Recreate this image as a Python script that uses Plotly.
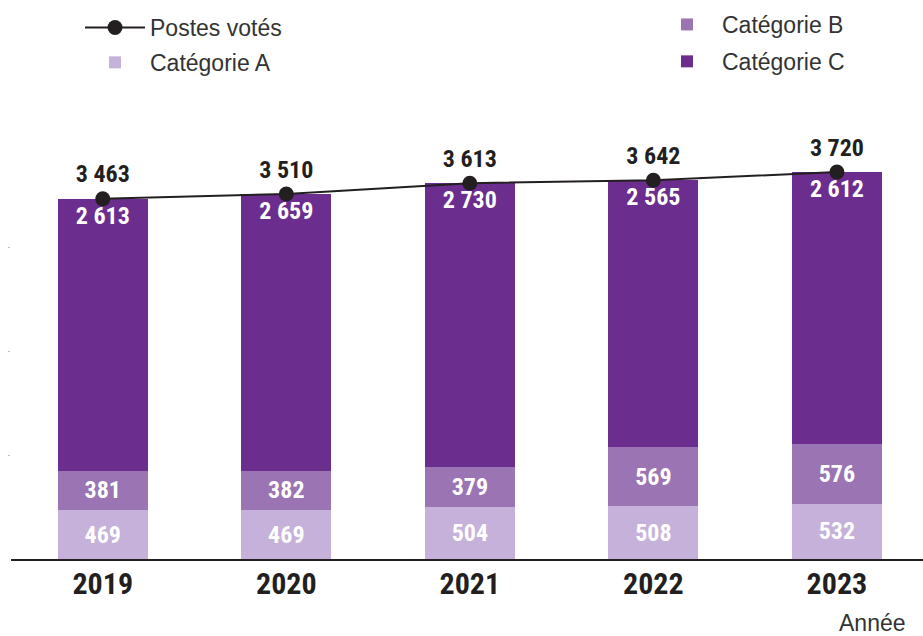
import plotly.graph_objects as go

years = ["2019", "2020", "2021", "2022", "2023"]
cat_a = [469, 469, 504, 508, 532]
cat_b = [381, 382, 379, 569, 576]
cat_c = [2613, 2659, 2730, 2565, 2612]
postes = [3463, 3510, 3613, 3642, 3720]

COL_A = "#c5b1d9"
COL_B = "#9a74b3"
COL_C = "#6b2d8e"
DARK = "#231f20"

NUM_FONT = "Liberation Sans Narrow, Roboto Condensed, DejaVu Sans Condensed, Roboto, sans-serif"
TXT_FONT = "Liberation Sans, Arial, sans-serif"

W, H = 923, 636
ML, MR, MT, MB = 11, 0, 143, 77
PW, PH = W - ML - MR, H - MT - MB


def fmt(v):
    return f"{v:,}".replace(",", " ")


def px_x(px):
    return (px - ML) / PW


def px_y(py):
    return (H - MB - py) / PH


def cx(px):
    return px / W


def cy(py):
    return 1 - py / H


fig = go.Figure()
lbl = dict(family=NUM_FONT, size=24, color="white", weight="bold")
for name, vals, col, anchor, rank, lg in [
    ("Catégorie A", cat_a, COL_A, "middle", 2, "legend"),
    ("Catégorie B", cat_b, COL_B, "middle", 1, "legend2"),
    ("Catégorie C", cat_c, COL_C, "end", 2, "legend2"),
]:
    fig.add_trace(go.Bar(
        x=years, y=vals, name=name, marker=dict(color=col, line=dict(width=0)),
        width=0.49, text=[fmt(v) for v in vals], textposition="inside",
        insidetextanchor=anchor, textfont=lbl, constraintext="none",
        hoverinfo="skip", legendrank=rank, legend=lg, legendgroup=name,
    ))

fig.add_trace(go.Scatter(
    x=years, y=postes, name="Postes votés", mode="lines+markers+text",
    line=dict(color=DARK, width=2), marker=dict(color=DARK, size=15),
    text=[fmt(v) for v in postes], textposition="top center",
    textfont=dict(family=NUM_FONT, size=24, color=DARK, weight="bold"),
    cliponaxis=False, legendrank=1, legend="legend", legendgroup="postes",
))

leg_common = dict(
    font=dict(family=TXT_FONT, size=23, color="#333333"),
    bgcolor="rgba(0,0,0,0)", borderwidth=0,
    xanchor="left", yanchor="top", itemwidth=60, orientation="v",
    xref="container", yref="container",
)
fig.update_layout(
    barmode="stack",
    width=W, height=H,
    margin=dict(l=ML, r=MR, t=MT, b=MB, pad=0, autoexpand=False),
    plot_bgcolor="white", paper_bgcolor="white",
    showlegend=True,
    legend=dict(x=cx(80), y=cy(6), tracegroupgap=2, **leg_common),
    legend2=dict(x=cx(652), y=cy(3), tracegroupgap=4, **leg_common),
    xaxis=dict(
        range=[-0.5, 4.469], showgrid=False, zeroline=False,
        showline=True, linecolor=DARK, linewidth=2, automargin=False,
        ticks="", tickfont=dict(family=NUM_FONT, size=30, color=DARK, weight="bold"),
        ticklabelstandoff=-3,
    ),
    yaxis=dict(
        range=[0, 4000], showgrid=False, zeroline=False, showline=False,
        tickvals=[1000, 2000, 3000], showticklabels=False, automargin=False,
        ticks="outside", ticklen=2, tickwidth=1, tickcolor="#c9b8da",
    ),
    annotations=[dict(
        text="Année", xref="paper", yref="paper", x=px_x(908), y=px_y(623),
        xanchor="right", yanchor="middle", showarrow=False,
        font=dict(family=TXT_FONT, size=23, color="#333333"),
    )],
)

fig.write_html(
    "out.html",
    config={"displayModeBar": False},
    post_script="document.body.style.margin='0';document.body.style.padding='0';",
)
